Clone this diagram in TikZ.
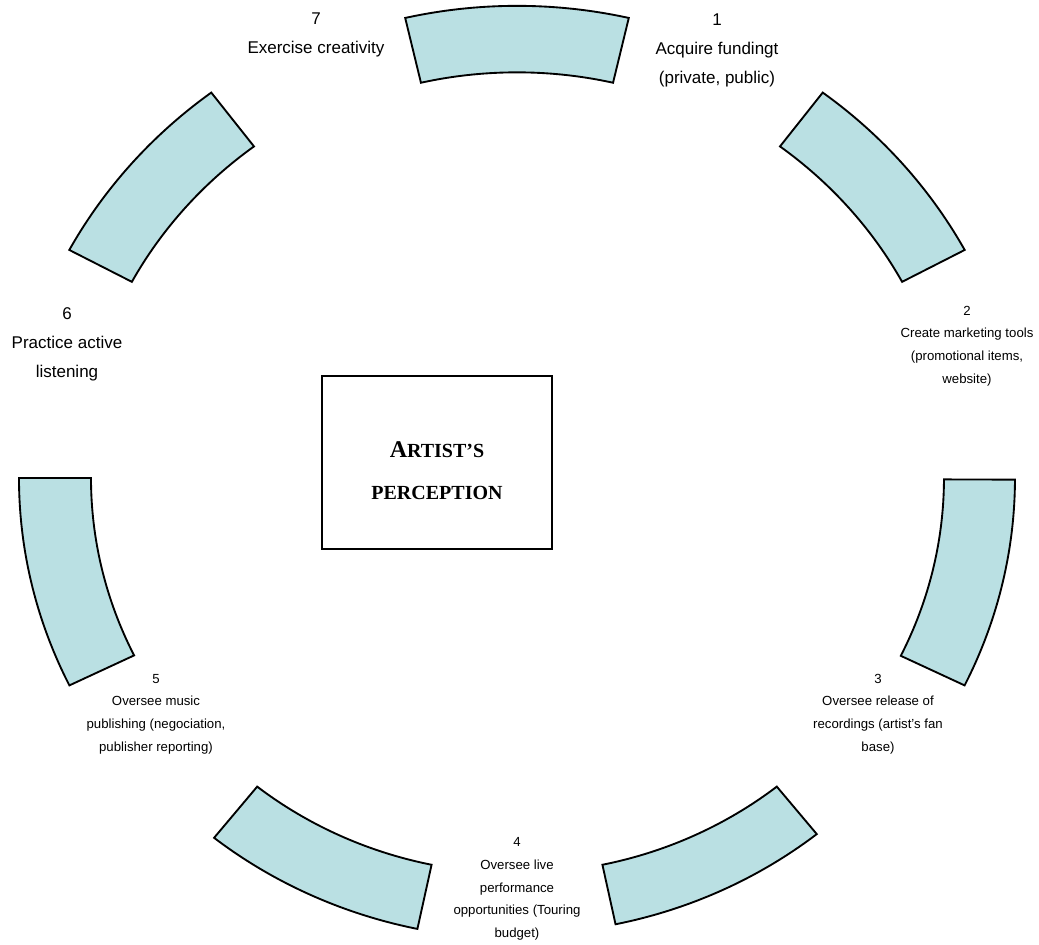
\documentclass[tikz,border=0pt]{standalone}
\usepackage{fontspec}
\setmainfont{Liberation Sans}
\newfontfamily\serifrm{Liberation Serif}
\usepackage{tikz}
\definecolor{ringblue}{RGB}{186,224,227}

\begin{document}
\begin{tikzpicture}[
  x=0.75pt, y=0.75pt,
  sector/.style={draw, line width=1.4pt, fill=ringblue},
  biglabel/.style={align=center, font=\fontsize{12.75}{21.75}\selectfont},
  smalllabel/.style={align=center, font=\fontsize{9.9}{17}\selectfont},
  centrebox/.style={draw, line width=1.4pt, minimum width=172.5pt, minimum height=129.75pt, align=center, font=\serifrm\bfseries\fontsize{15}{32}\selectfont}
]
\useasboundingbox (-517,-467) rectangle (522,478);

% ring of block arcs: centre angle / half span / outer radius / inner radius
\foreach \a/\h/\ro/\ri in {90/13/497/427, 40.6/12.4/508/437, -13.1/12.9/498/427, -64.75/13.4/480/416, -115.25/13.4/485/416, -167/13/498/426, 139.4/12.4/508/437}
  \draw[sector] ({\a-\h}:{\ro} and {0.95*\ro}) arc[start angle=\a-\h, end angle=\a+\h, x radius=\ro, y radius=0.95*\ro]
    -- ({\a+\h}:{\ri} and {0.95*\ri}) arc[start angle=\a+\h, end angle=\a-\h, x radius=\ri, y radius=0.95*\ri] -- cycle;

\node[centrebox] (percep) at (-80,15.5) {\rule{0pt}{24pt}{\fontsize{18}{32}\selectfont A}RTIST’S\\PERCEPTION};

\node[biglabel] (fund) at (200,428) {1\\Acquire fundingt\\(private, public)};
\node[smalllabel] (tools) at (450,132) {2\\Create marketing tools\\(promotional items,\\website)};
\node[smalllabel] (release) at (361,-236) {3\\Oversee release of\\recordings (artist’s fan\\base)};
\node[smalllabel] (live) at (0,-411) {4\\Oversee live\\performance\\opportunities (Touring\\budget)};
\node[smalllabel] (publish) at (-361,-236) {5\\Oversee music\\publishing (negociation,\\publisher reporting)};
\node[biglabel] (listen) at (-450,133.5) {6\\Practice active\\listening};
\node[biglabel] (create) at (-201,443.5) {7\\Exercise creativity};
\end{tikzpicture}
\end{document}
